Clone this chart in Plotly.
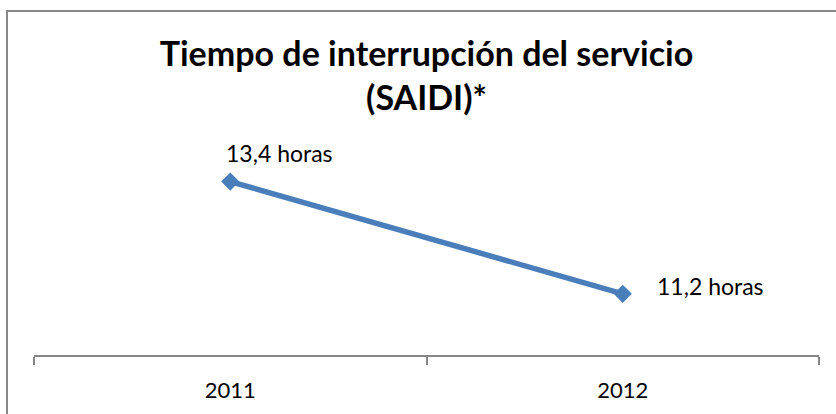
import plotly.graph_objects as go

years = ["2011", "2012"]
saidi = [13.4, 11.2]
labels = ["13,4 horas", "11,2 horas"]
title_text = "Tiempo de interrupción del servicio<br>(SAIDI)*"

FONT = "Lato, Carlito, sans-serif"

fig = go.Figure()
fig.add_trace(go.Scatter(
    x=years, y=saidi, mode="lines+markers",
    line=dict(color="#4A7EBB", width=5.5),
    marker=dict(symbol="diamond", size=14, color="#4A7EBB"),
    hoverinfo="skip", showlegend=False,
))

offsets = [(-6, 13, "left", "bottom"), (32, 8, "left", "middle")]
for i, (yv, txt, (dx, dy, xa, ya)) in enumerate(zip(saidi, labels, offsets)):
    fig.add_annotation(x=i, y=yv, xref="x", yref="y", text=txt, showarrow=False,
                       xanchor=xa, yanchor=ya, xshift=dx, yshift=dy,
                       font=dict(family=FONT, size=23, color="#000000"))

fig.update_layout(
    width=836, height=414,
    margin=dict(l=34, r=17, t=151, b=59, pad=0),
    paper_bgcolor="white", plot_bgcolor="white",
    font=dict(family=FONT, color="#000000"),
    title=dict(text=title_text, x=0.5, xanchor="center", xref="paper",
               y=1 - 66 / 414, yanchor="top", yref="container",
               font=dict(size=34, color="#000000", family=FONT, weight="bold")),
    xaxis=dict(type="category", range=[-0.5, 1.5], showline=True, linecolor="#868686", linewidth=2,
               ticks="outside", tickson="boundaries", tickcolor="#868686", ticklen=8, tickwidth=2,
               ticklabelstandoff=15,
               showgrid=False, zeroline=False, tickfont=dict(size=22, color="#000000"),
               fixedrange=True),
    yaxis=dict(range=[10, 14], visible=False, showgrid=False, zeroline=False, fixedrange=True),
    shapes=[dict(type="rect", xref="paper", yref="paper",
                 x0=(7 - 34) / 785, x1=(850 - 34) / 785,
                 y0=(355 - 430) / 204, y1=(355 - 11) / 204,
                 line=dict(color="#888888", width=2), fillcolor="rgba(0,0,0,0)", layer="below")],
)

fig.write_html("out.html", config={"displayModeBar": False},
               post_script="document.body.style.margin='0px';")
